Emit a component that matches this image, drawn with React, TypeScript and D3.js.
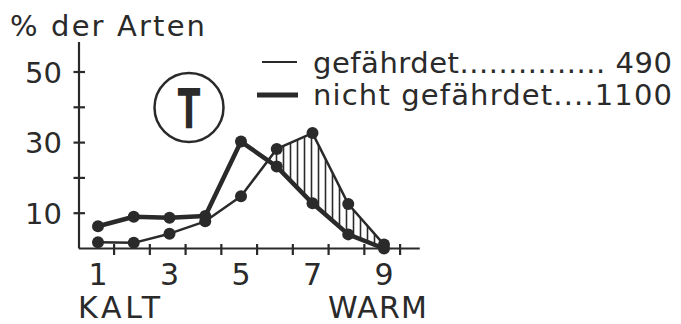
import * as d3 from 'd3';

// classes of the temperature scale (1 = kalt ... 9 = warm)
const classes = [1, 2, 3, 4, 5, 6, 7, 8, 9];
// % der Arten per class
const gefaehrdet = [1.8, 1.6, 4.2, 7.7, 14.8, 28.2, 32.7, 12.6, 1.1];
const nichtGefaehrdet = [6.3, 9.0, 8.7, 9.2, 30.3, 23.2, 12.8, 4.0, 0];

const yTickValues = [10, 20, 30, 40, 50];
const yLabelValues = [10, 30, 50];
const xLabelValues = [1, 3, 5, 7, 9];
const xTickValues = [1.45, 2.45, 3.45, 4.45, 5.45, 6.45, 7.45, 8.45, 9.45];
const legendLabels = ['gefährdet............... 490', 'nicht gefährdet....1100'];

const W = 681;
const H = 324;
const ink = '#2a2a2a';
const font = "'DejaVu Sans', sans-serif";

export default function App() {
  const x = d3.scaleLinear().domain([1, 9]).range([98, 384]);
  const y = d3.scaleLinear().domain([0, 50]).range([248.5, 72]);
  const axisX = 79;

  const thin = classes.map((c, i) => ({ c, v: gefaehrdet[i] }));
  const thick = classes.map((c, i) => ({ c, v: nichtGefaehrdet[i] }));

  const line = d3
    .line<{ c: number; v: number }>()
    .x((d) => x(d.c))
    .y((d) => y(d.v));

  // region under the "gefährdet" line
  const underThin = d3
    .area<{ c: number; v: number }>()
    .x((d) => x(d.c))
    .y0(y(0))
    .y1((d) => y(d.v));

  // region above the "nicht gefährdet" line
  const aboveThick = d3
    .area<{ c: number; v: number }>()
    .x((d) => x(d.c))
    .y0((d) => y(d.v))
    .y1(y(60));

  return (
    <svg
      width={W}
      height={H}
      style={{ position: 'absolute', left: 0, top: 0, background: '#fff' }}
      fontFamily={font}
      fill={ink}
    >
      <defs>
        <pattern id="hatch" patternUnits="userSpaceOnUse" width={7} height={10}>
          <line x1={3.5} y1={0} x2={3.5} y2={10} stroke={ink} strokeWidth={1.6} />
        </pattern>
        <clipPath id="underThin">
          <path d={underThin(thin) || ''} />
        </clipPath>
      </defs>

      {/* title */}
      <text x={10} y={36} fontSize={29} textLength={195} lengthAdjust="spacing">
        % der Arten
      </text>

      {/* hatched area where gefährdet > nicht gefährdet */}
      <path d={aboveThick(thick) || ''} fill="url(#hatch)" clipPath="url(#underThin)" />

      {/* axes */}
      <line x1={axisX} y1={42} x2={axisX} y2={y(0)} stroke={ink} strokeWidth={2.2} />
      <line x1={axisX} y1={y(0)} x2={x(10)} y2={y(0)} stroke={ink} strokeWidth={2.2} />
      {yTickValues.map((v) => (
        <line key={v} x1={axisX - 5.5} x2={axisX + 6} y1={y(v)} y2={y(v)} stroke={ink} strokeWidth={2.2} />
      ))}
      {yLabelValues.map((v) => (
        <text key={v} x={62} y={y(v) + 10.5} fontSize={29} textAnchor="end">
          {v}
        </text>
      ))}
      {xTickValues.map((v) => (
        <line key={v} x1={x(v)} x2={x(v)} y1={y(0) - 4.5} y2={y(0) + 6.5} stroke={ink} strokeWidth={2.2} />
      ))}
      {xLabelValues.map((v) => (
        <text key={v} x={x(v)} y={285} fontSize={30} textAnchor="middle">
          {v}
        </text>
      ))}
      <text x={78} y={318} fontSize={30} textLength={82} lengthAdjust="spacing">
        KALT
      </text>
      <text x={328} y={318} fontSize={30} textLength={99} lengthAdjust="spacing">
        WARM
      </text>

      {/* series */}
      <path d={line(thin) || ''} fill="none" stroke={ink} strokeWidth={2.5} strokeLinejoin="round" />
      <path d={line(thick) || ''} fill="none" stroke={ink} strokeWidth={4.5} strokeLinejoin="round" />
      {thin.map((d) => (
        <circle key={'t' + d.c} cx={x(d.c)} cy={y(d.v)} r={6} fill={ink} />
      ))}
      {thick.map((d) => (
        <circle key={'k' + d.c} cx={x(d.c)} cy={y(d.v)} r={6} fill={ink} />
      ))}

      {/* circled T */}
      <circle cx={189} cy={107.5} r={34.5} fill="none" stroke={ink} strokeWidth={2.5} />
      <text
        transform="translate(189,128) scale(0.6,1)"
        fontSize={55}
        fontWeight="bold"
        textAnchor="middle"
      >
        T
      </text>

      {/* legend */}
      <line x1={262} x2={297} y1={62} y2={62} stroke={ink} strokeWidth={2} />
      <line x1={257} x2={298} y1={95} y2={95} stroke={ink} strokeWidth={5} />
      {legendLabels.map((l, i) => (
        <text key={l} x={313} y={73 + i * 32} fontSize={29} textLength={359} lengthAdjust="spacing">
          {l}
        </text>
      ))}
    </svg>
  );
}
